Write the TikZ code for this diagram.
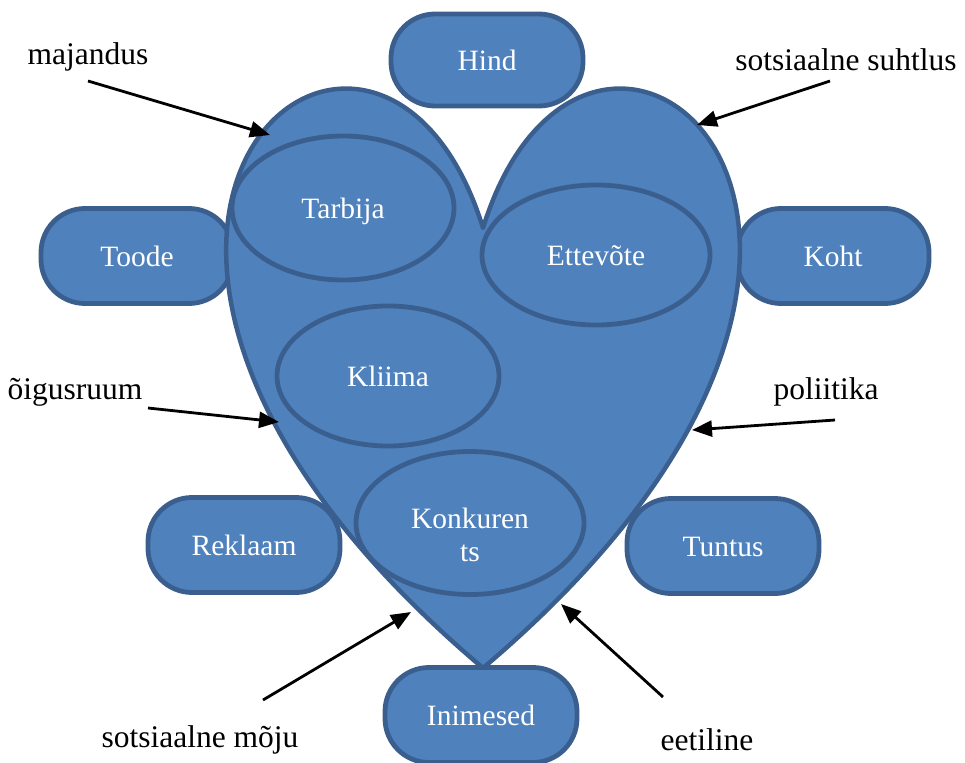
\documentclass[tikz,border=0pt]{standalone}
\usepackage{fontspec}
\setmainfont{Liberation Serif}
\usetikzlibrary{shapes.geometric,arrows.meta}
\definecolor{fillb}{HTML}{4F81BD}
\definecolor{lineb}{HTML}{3A5F8E}
\begin{document}
\begin{tikzpicture}[x=1pt,y=-1pt,
  shp/.style={fill=fillb,draw=lineb,line width=4.8pt},
  pill/.style={shp,rectangle,rounded corners=44pt,minimum width=192pt,minimum height=95pt,text=white,font=\fontsize{29.5}{34}\selectfont,inner sep=0pt,text height=20.5pt,text depth=0pt},
  ell/.style={shp,ellipse,text=white,font=\fontsize{29.5}{32}\selectfont,inner sep=0pt,text height=20.5pt,text depth=0pt},
  lbl/.style={font=\fontsize{31.5}{36}\selectfont,text=black,inner sep=0pt},
  arr/.style={-{Triangle[length=20pt,width=16pt]},line width=2.8pt,black}]
\useasboundingbox (0,0) rectangle (965,762);
% boxes behind the heart
\node[pill] (toode) at (137,256) {Toode};
\node[pill] (koht) at (833,256) {Koht};
\node[pill] (rekl) at (244,545) {Reklaam};
\node[pill] (tunt) at (723,546) {Tuntus};
% heart
\draw[shp,line width=4.5pt,line join=round] (483,228) .. controls (589.25,-114.3) and (1003.6,228) .. (483,668)
  .. controls (-37.6,228) and (376.75,-114.3) .. (483,228) -- cycle;
% ellipses
\node[ell,minimum width=222pt,minimum height=144pt] (tarb) at (343,208) {Tarbija};
\node[ell,minimum width=228pt,minimum height=140pt] (ette) at (596,255) {Ettevõte};
\node[ell,minimum width=222pt,minimum height=140pt] (klii) at (388,376) {Kliima};
\node[ell,minimum width=228pt,minimum height=143pt] (konk) at (470,523) {};
\node[text=white,font=\fontsize{29.5}{33}\selectfont,align=center,inner sep=0pt] (konkt) at (470,535) {Konkuren\\ts};
% boxes in front
\node[pill,minimum height=92pt] (hind) at (487,60) {Hind};
\node[pill] (inim) at (481,715) {Inimesed};
% labels
\node[lbl] (maj) at (88,57) {majandus};
\node[lbl] (sots) at (846,60) {sotsiaalne suhtlus};
\node[lbl] (oig) at (75,392) {õigusruum};
\node[lbl] (pol) at (826,392) {poliitika};
\node[lbl] (smoj) at (200,740) {sotsiaalne mõju};
\node[lbl] (eet) at (707,740) {eetiline};
% arrow ends
\coordinate (majs) at (88,81);
\coordinate (maje) at (270,135);
\coordinate (sotss) at (830,81);
\coordinate (sotse) at (697,125);
\coordinate (oigs) at (148,408);
\coordinate (oige) at (279,422);
\coordinate (pols) at (835,420);
\coordinate (pole) at (692,430);
\coordinate (smojs) at (263,700);
\coordinate (smoje) at (411,612);
\coordinate (eets) at (663,697);
\coordinate (eete) at (561,604);
\draw[arr] (majs) -- (maje);
\draw[arr] (sotss) -- (sotse);
\draw[arr] (oigs) -- (oige);
\draw[arr] (pols) -- (pole);
\draw[arr] (smojs) -- (smoje);
\draw[arr] (eets) -- (eete);
\end{tikzpicture}
\end{document}
